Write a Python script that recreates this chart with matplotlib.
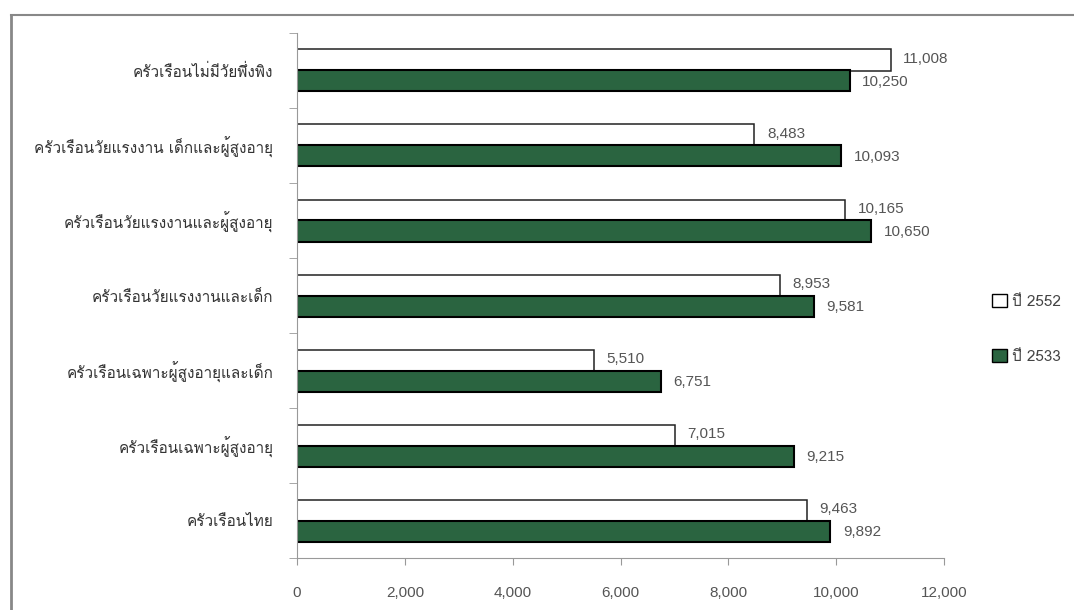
import numpy as np
import matplotlib
matplotlib.use("Agg")
from matplotlib import pyplot as plt
from matplotlib import font_manager
from matplotlib.ft2font import FT2Font
from matplotlib.lines import Line2D
from matplotlib.patches import Patch

# data (top to bottom as drawn)
categories = ["ครัวเรือนไม่มีวัยพึ่งพิง",
              "ครัวเรือนวัยแรงงาน เด็กและผู้สูงอายุ",
              "ครัวเรือนวัยแรงงานและผู้สูงอายุ",
              "ครัวเรือนวัยแรงงานและเด็ก",
              "ครัวเรือนเฉพาะผู้สูงอายุและเด็ก",
              "ครัวเรือนเฉพาะผู้สูงอายุ",
              "ครัวเรือนไทย"]
y2552 = [11008, 8483, 10165, 8953, 5510, 7015, 9463]
y2533 = [10250, 10093, 10650, 9581, 6751, 9215, 9892]
series_names = ["ปี 2552", "ปี 2533"]
xticks = [0, 2000, 4000, 6000, 8000, 10000, 12000]

# find a font that has thai glyphs
thai_font = None
for f in font_manager.fontManager.ttflist:
    try:
        if 0x0E04 in FT2Font(f.fname).get_charmap():
            thai_font = f.name
            break
    except Exception:
        pass
families = ([thai_font] if thai_font else []) + ["Liberation Sans", "DejaVu Sans"]
plt.rcParams['font.family'] = families

fig = plt.figure(figsize=(10.74, 6.10), dpi=100)
ax = fig.add_axes([297/1074, 1-558/610, (944-297)/1074, (558-33)/610])

n = len(categories)
pos = np.arange(n)[::-1]
h = 0.28
green = "#2a6440"
ax.barh(pos + h/2, y2552, height=h, color="white", edgecolor="#222222", linewidth=1.1)
ax.barh(pos - h/2, y2533, height=h, color=green, edgecolor="black", linewidth=1.5)

for p, a, b in zip(pos, y2552, y2533):
    ax.annotate(f"{a:,}", (a, p + h/2), xytext=(9, 1), textcoords="offset points",
                va="center", ha="left", fontsize=11, color="#555555", family="Liberation Sans")
    ax.annotate(f"{b:,}", (b, p - h/2), xytext=(9, -1), textcoords="offset points",
                va="center", ha="left", fontsize=11, color="#555555", family="Liberation Sans")

ax.set_xlim(0, 12000)
ax.set_ylim(-0.5, n - 0.5)
ax.set_xticks(xticks)
ax.set_xticklabels([f"{v:,}" for v in xticks], fontsize=11, color="#555555", family="Liberation Sans")
ax.set_yticks(pos)
ax.set_yticklabels(categories, fontsize=11, color="#333333")
ax.set_yticks(np.arange(n + 1) - 0.5, minor=True)
ax.tick_params(axis="y", which="major", length=0, pad=17)
ax.tick_params(axis="y", which="minor", length=6, color="#999999")
ax.tick_params(axis="x", length=5, color="#999999", pad=15)
for s in ["top", "right"]:
    ax.spines[s].set_visible(False)
for s in ["left", "bottom"]:
    ax.spines[s].set_color("#999999")

handles = [Patch(facecolor="white", edgecolor="black"),
           Patch(facecolor=green, edgecolor="black")]
leg = fig.legend(handles, series_names, loc="upper left", bbox_to_anchor=(978/1074, 1-280/610),
                 frameon=False, handlelength=1.0, handleheight=1.0, handletextpad=0.3,
                 labelspacing=2.6, fontsize=11)
for t in leg.get_texts():
    t.set_color("#444444")

# outer frame
fig.add_artist(Line2D([11/1074, 11/1074], [0, 1-15/610], color="#888888", lw=2))
fig.add_artist(Line2D([11/1074, 1], [1-15/610, 1-15/610], color="#888888", lw=1.5))

fig.savefig("out.png", dpi=100)
